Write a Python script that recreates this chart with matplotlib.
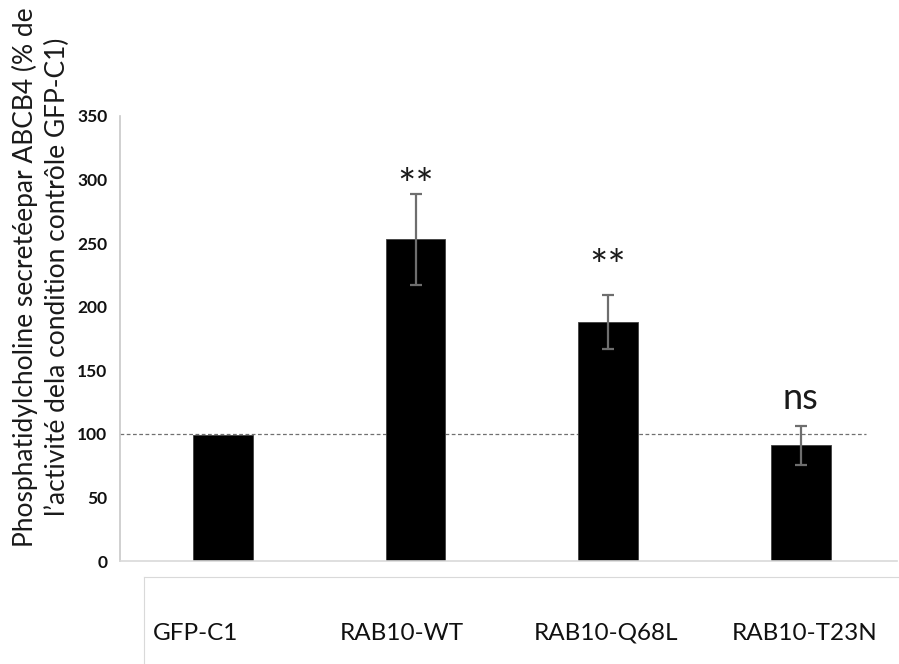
import numpy as np
import matplotlib
matplotlib.use('Agg')
import matplotlib.pyplot as plt

plt.rcParams['font.family'] = ['Lato', 'DejaVu Sans']

# données
conditions = ["GFP-C1", "RAB10-WT", "RAB10-Q68L", "RAB10-T23N"]
activite = [99, 253, 188, 91]
erreur = [0, 36, 21, 15.5]
signif = ["", "**", "**", "ns"]
signif_y = [0, 304, 240, 128]
y_ticks = [0, 50, 100, 150, 200, 250, 300, 350]
reference = 100

fig = plt.figure(figsize=(8.99, 6.64), dpi=100)
ax = fig.add_axes([120 / 899, 103 / 664, 777 / 899, 445 / 664])

x = np.arange(len(conditions))
ax.bar(x, activite, width=0.31, color='black', edgecolor='#404040', linewidth=0.6, zorder=2)
ax.errorbar(x[1:], activite[1:], yerr=erreur[1:], fmt='none', ecolor='#6e6e6e',
            elinewidth=1.6, capsize=4.5, capthick=1.6, zorder=3)

# ligne de référence à 100 %
ax.plot([-0.535, 3.34], [reference, reference], linestyle=(0, (3, 2)),
        color='#707070', linewidth=0.9, zorder=1)

# étoiles / ns
for i, (s, ys) in enumerate(zip(signif, signif_y)):
    if s == "**":
        ax.annotate("**", (i, ys), xytext=(0, -9), textcoords='offset points',
                    ha='center', va='center', fontsize=31, color='#1a1a1a')
    elif s:
        ax.annotate(s, (i, ys), xytext=(0, 0), textcoords='offset points',
                    ha='center', va='center', fontsize=26, color='#1a1a1a')

ax.set_xlim(-0.535, 3.5)
ax.set_ylim(0, 350)
ax.set_yticks(y_ticks)
ax.set_yticklabels([str(t) for t in y_ticks], fontweight='bold', fontsize=12.5, color='#111111')
ax.tick_params(axis='y', length=0, pad=9)
ax.set_xticks([])
for s in ['top', 'right']:
    ax.spines[s].set_visible(False)
ax.spines['left'].set_color('#c8c8c8')
ax.spines['bottom'].set_color('#d9d9d9')
ax.spines['left'].set_linewidth(1.2)
ax.spines['bottom'].set_linewidth(1.2)

fig.text(41 / 899, 1 - 277 / 664,
         "Phosphatidylcholine secretéepar ABCB4 (% de\nl\u2019activité dela condition contrôle GFP-C1)",
         rotation=90, ha='center', va='center', fontsize=19, linespacing=1.3, color='#1a1a1a')

# cadre des étiquettes
lab = fig.add_axes([144 / 899, 0, 755 / 899, 87 / 664])
lab.set_xlim(0, 1)
lab.set_ylim(0, 1)
lab.set_xticks([])
lab.set_yticks([])
for s in ['bottom', 'right']:
    lab.spines[s].set_visible(False)
lab.spines['top'].set_color('#d9d9d9')
lab.spines['left'].set_color('#d9d9d9')
label_x = [195.5, 402, 606, 805]
for lx, c in zip(label_x, conditions):
    lab.text((lx - 144) / 755, (664 - 633) / 87, c, ha='center', va='center',
             fontsize=17.5, color='#111111')

fig.savefig('out.png', dpi=100)
